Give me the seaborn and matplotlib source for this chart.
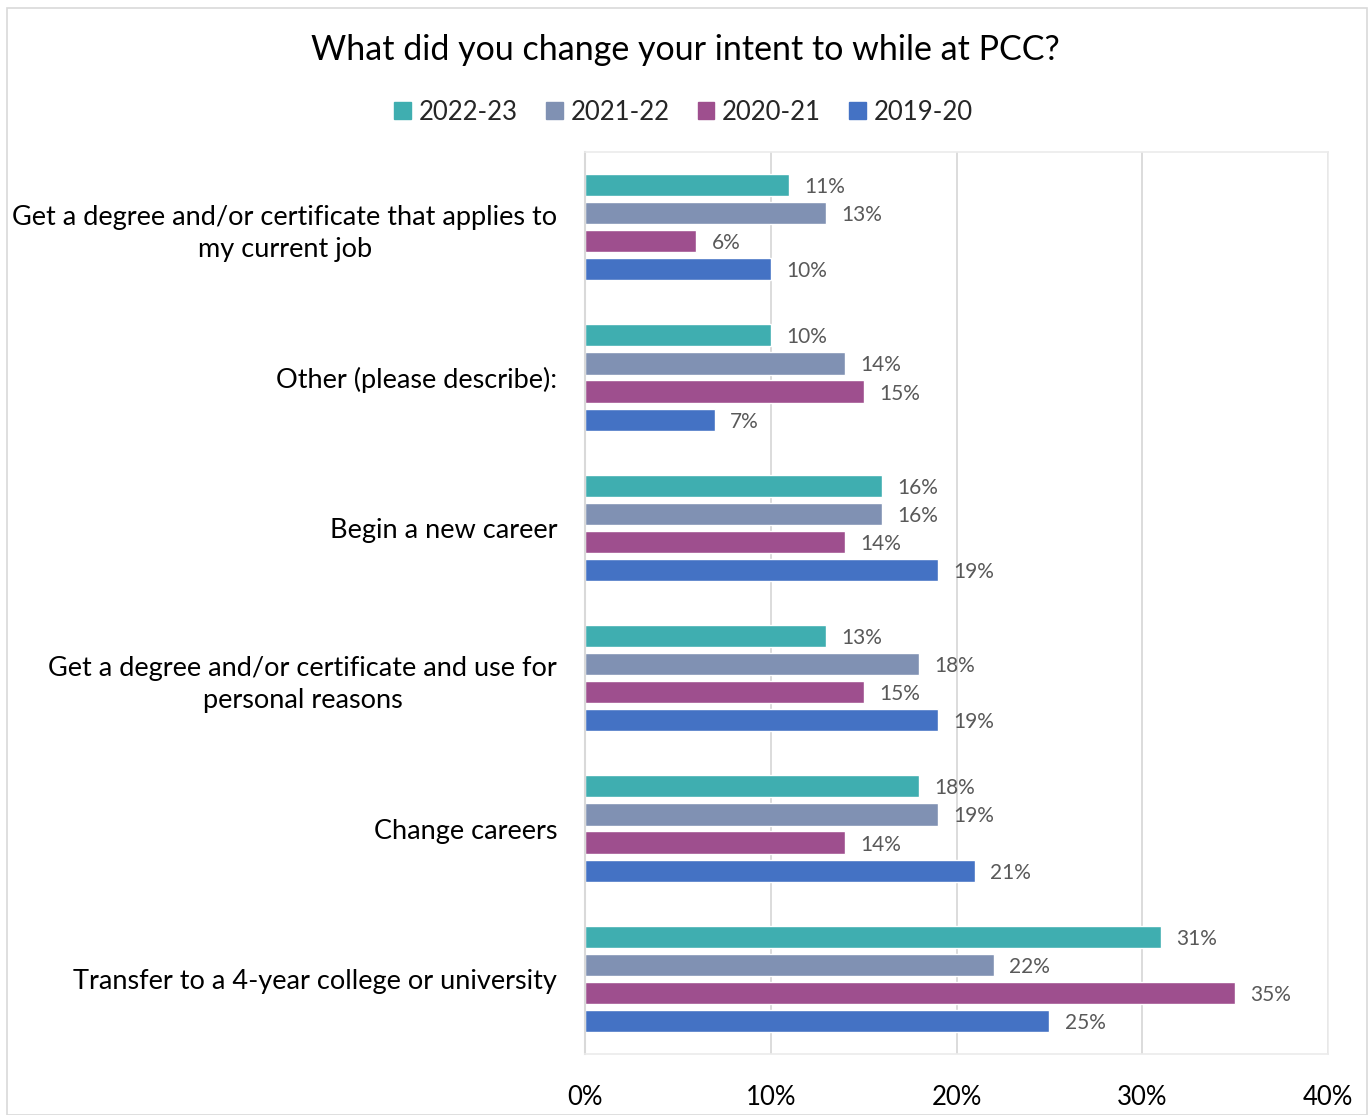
import matplotlib
matplotlib.use("Agg")
import matplotlib.pyplot as plt
import seaborn as sns
import pandas as pd
from matplotlib.patches import Rectangle

categories = [
    "Get a degree and/or certificate that applies to\nmy current job",
    "Other (please describe):",
    "Begin a new career",
    "Get a degree and/or certificate and use for\npersonal reasons",
    "Change careers",
    "Transfer to a 4-year college or university",
]
years = ["2022-23", "2021-22", "2020-21", "2019-20"]
v_2022_23 = [11, 10, 16, 13, 18, 31]
v_2021_22 = [13, 14, 16, 18, 19, 22]
v_2020_21 = [6, 15, 14, 15, 14, 35]
v_2019_20 = [10, 7, 19, 19, 21, 25]
colors = ["#3FAEB0", "#8091B3", "#9E4F8E", "#4472C4"]
x_ticks = [0, 10, 20, 30, 40]
x_tick_labels = ["0%", "10%", "20%", "30%", "40%"]

rows = []
for yr, vals in zip(years, [v_2022_23, v_2021_22, v_2020_21, v_2019_20]):
    for c, v in zip(categories, vals):
        rows.append({"category": c, "year": yr, "value": v})
df = pd.DataFrame(rows)

sns.set_theme(style="white")
plt.rcParams["font.family"] = ["Lato", "DejaVu Sans"]

fig = plt.figure(figsize=(13.7, 11.15), dpi=100)
ax = fig.add_axes([585 / 1370, 1 - 1054 / 1115, (1328 - 585) / 1370, (1054 - 152) / 1115])

sns.barplot(data=df, y="category", x="value", hue="year", order=categories,
            hue_order=years, palette=colors, orient="h", width=0.747, gap=0.21,
            saturation=1, ax=ax, legend=False)

for cont in ax.containers:
    labs = ax.bar_label(cont, labels=[f"{int(v)}%" for v in cont.datavalues],
                        padding=11, fontsize=15, color="#595959")
    for t in labs:
        t.set_va("center_baseline")

ax.set_xlim(0, 40)
ax.set_ylim(5.5, -0.5)
ax.set_xticks(x_ticks)
ax.set_xticklabels(x_tick_labels, fontsize=18.5, color="black")
ax.tick_params(axis="x", pad=22, length=0)
ax.tick_params(axis="y", pad=20, length=0, labelsize=19.5, labelcolor="black")
for lab in ax.get_yticklabels():
    lab.set_horizontalalignment("right")
    lab.set_multialignment("center")
    lab.set_linespacing(1.35)
ax.set_xlabel("")
ax.set_ylabel("")
ax.xaxis.grid(True, color="#D9D9D9", linewidth=1.3)
ax.set_axisbelow(True)
for side in ["top", "right", "bottom"]:
    ax.spines[side].set_color("#EBEBEB")
    ax.spines[side].set_linewidth(1.2)
ax.spines["left"].set_color("#D9D9D9")
ax.spines["left"].set_linewidth(1.5)

fig.text(0.5, 1 - 50 / 1115, "What did you change your intent to while at PCC?",
         ha="center", va="center", fontsize=24.5, color="black")

handles = [Rectangle((0, 0), 1, 1, color=c) for c in colors]
fig.legend(handles, years, loc="center", bbox_to_anchor=(0.499, 1 - 112 / 1115),
           ncol=4, frameon=False, fontsize=18.5, handlelength=0.65, handleheight=0.65,
           handletextpad=0.3, columnspacing=1.1)

fig.patches.append(Rectangle((7 / 1370, 0), 1360 / 1370, 1 - 8 / 1115,
                             transform=fig.transFigure, fill=False,
                             edgecolor="#D9D9D9", linewidth=1.2))

fig.savefig("out.png", dpi=100, facecolor="white")
